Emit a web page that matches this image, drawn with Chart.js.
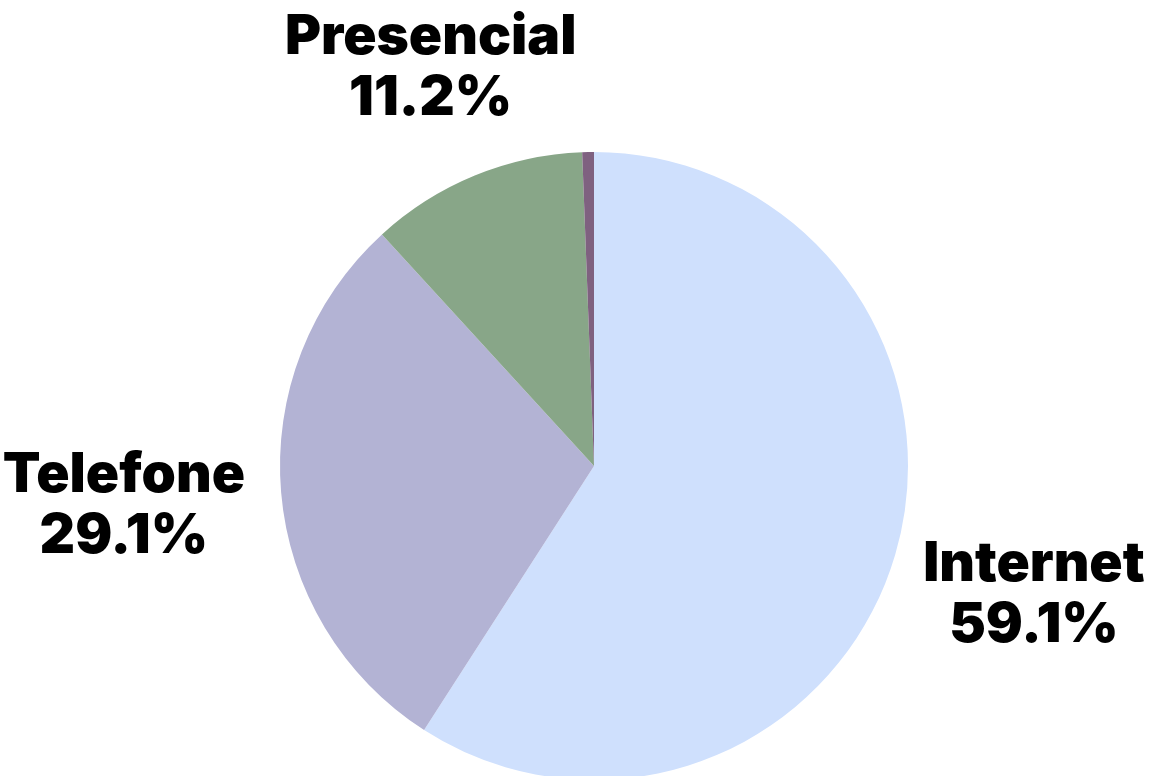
<!DOCTYPE html>
<html>
<head>
<meta charset="utf-8">
<script src="https://cdn.jsdelivr.net/npm/chart.js@4.4.0/dist/chart.umd.min.js"></script>
<style>
  html, body { margin: 0; padding: 0; background: #fff; overflow: hidden; }
  #wrap { width: 1154px; height: 800px; }
</style>
</head>
<body>
<div id="wrap"><canvas id="myChart"></canvas></div>
<script>
const labels = ['Internet', 'Telefone', 'Presencial', 'Outros'];
const values = [59.1, 29.1, 11.2, 0.6];
const colors = ['#cfe0fd', '#b3b3d4', '#88a688', '#7f6180'];

const labelFont = '900 55px Inter';
const lineGap = 61;

// labels placed outside each slice, along the slice's middle angle
const outsideLabels = {
  id: 'outsideLabels',
  afterDatasetsDraw(chart) {
    const ctx = chart.ctx;
    const meta = chart.getDatasetMeta(0);
    ctx.save();
    ctx.font = labelFont;
    ctx.fillStyle = '#000';
    ctx.textAlign = 'center';
    ctx.textBaseline = 'middle';
    meta.data.forEach(function(arc, i) {
      if (values[i] < 1) return;
      const lines = [labels[i], values[i].toFixed(1) + '%'];
      const w = Math.max.apply(null, lines.map(function(t) { return ctx.measureText(t).width; }));
      const h = lineGap * 2;
      const mid = (arc.startAngle + arc.endAngle) / 2;
      const c = Math.cos(mid), s = Math.sin(mid);
      const ext = Math.sqrt(Math.pow(c * w / 2, 2) + Math.pow(s * h / 2, 2));
      const d = arc.outerRadius + 37 + ext;
      const x = arc.x + c * d;
      const y = arc.y + s * d;
      ctx.fillText(lines[0], x, y - lineGap / 2);
      ctx.fillText(lines[1], x, y + lineGap / 2);
    });
    ctx.restore();
  }
};

new Chart(document.getElementById('myChart'), {
  type: 'pie',
  data: {
    labels: labels,
    datasets: [{
      data: values,
      backgroundColor: colors,
      borderWidth: 0
    }]
  },
  options: {
    responsive: true,
    maintainAspectRatio: false,
    animation: false,
    layout: { padding: { left: 280, right: 246, top: 152, bottom: 20 } },
    plugins: {
      legend: { display: false },
      tooltip: { enabled: false }
    }
  },
  plugins: [outsideLabels]
});
</script>
</body>
</html>
